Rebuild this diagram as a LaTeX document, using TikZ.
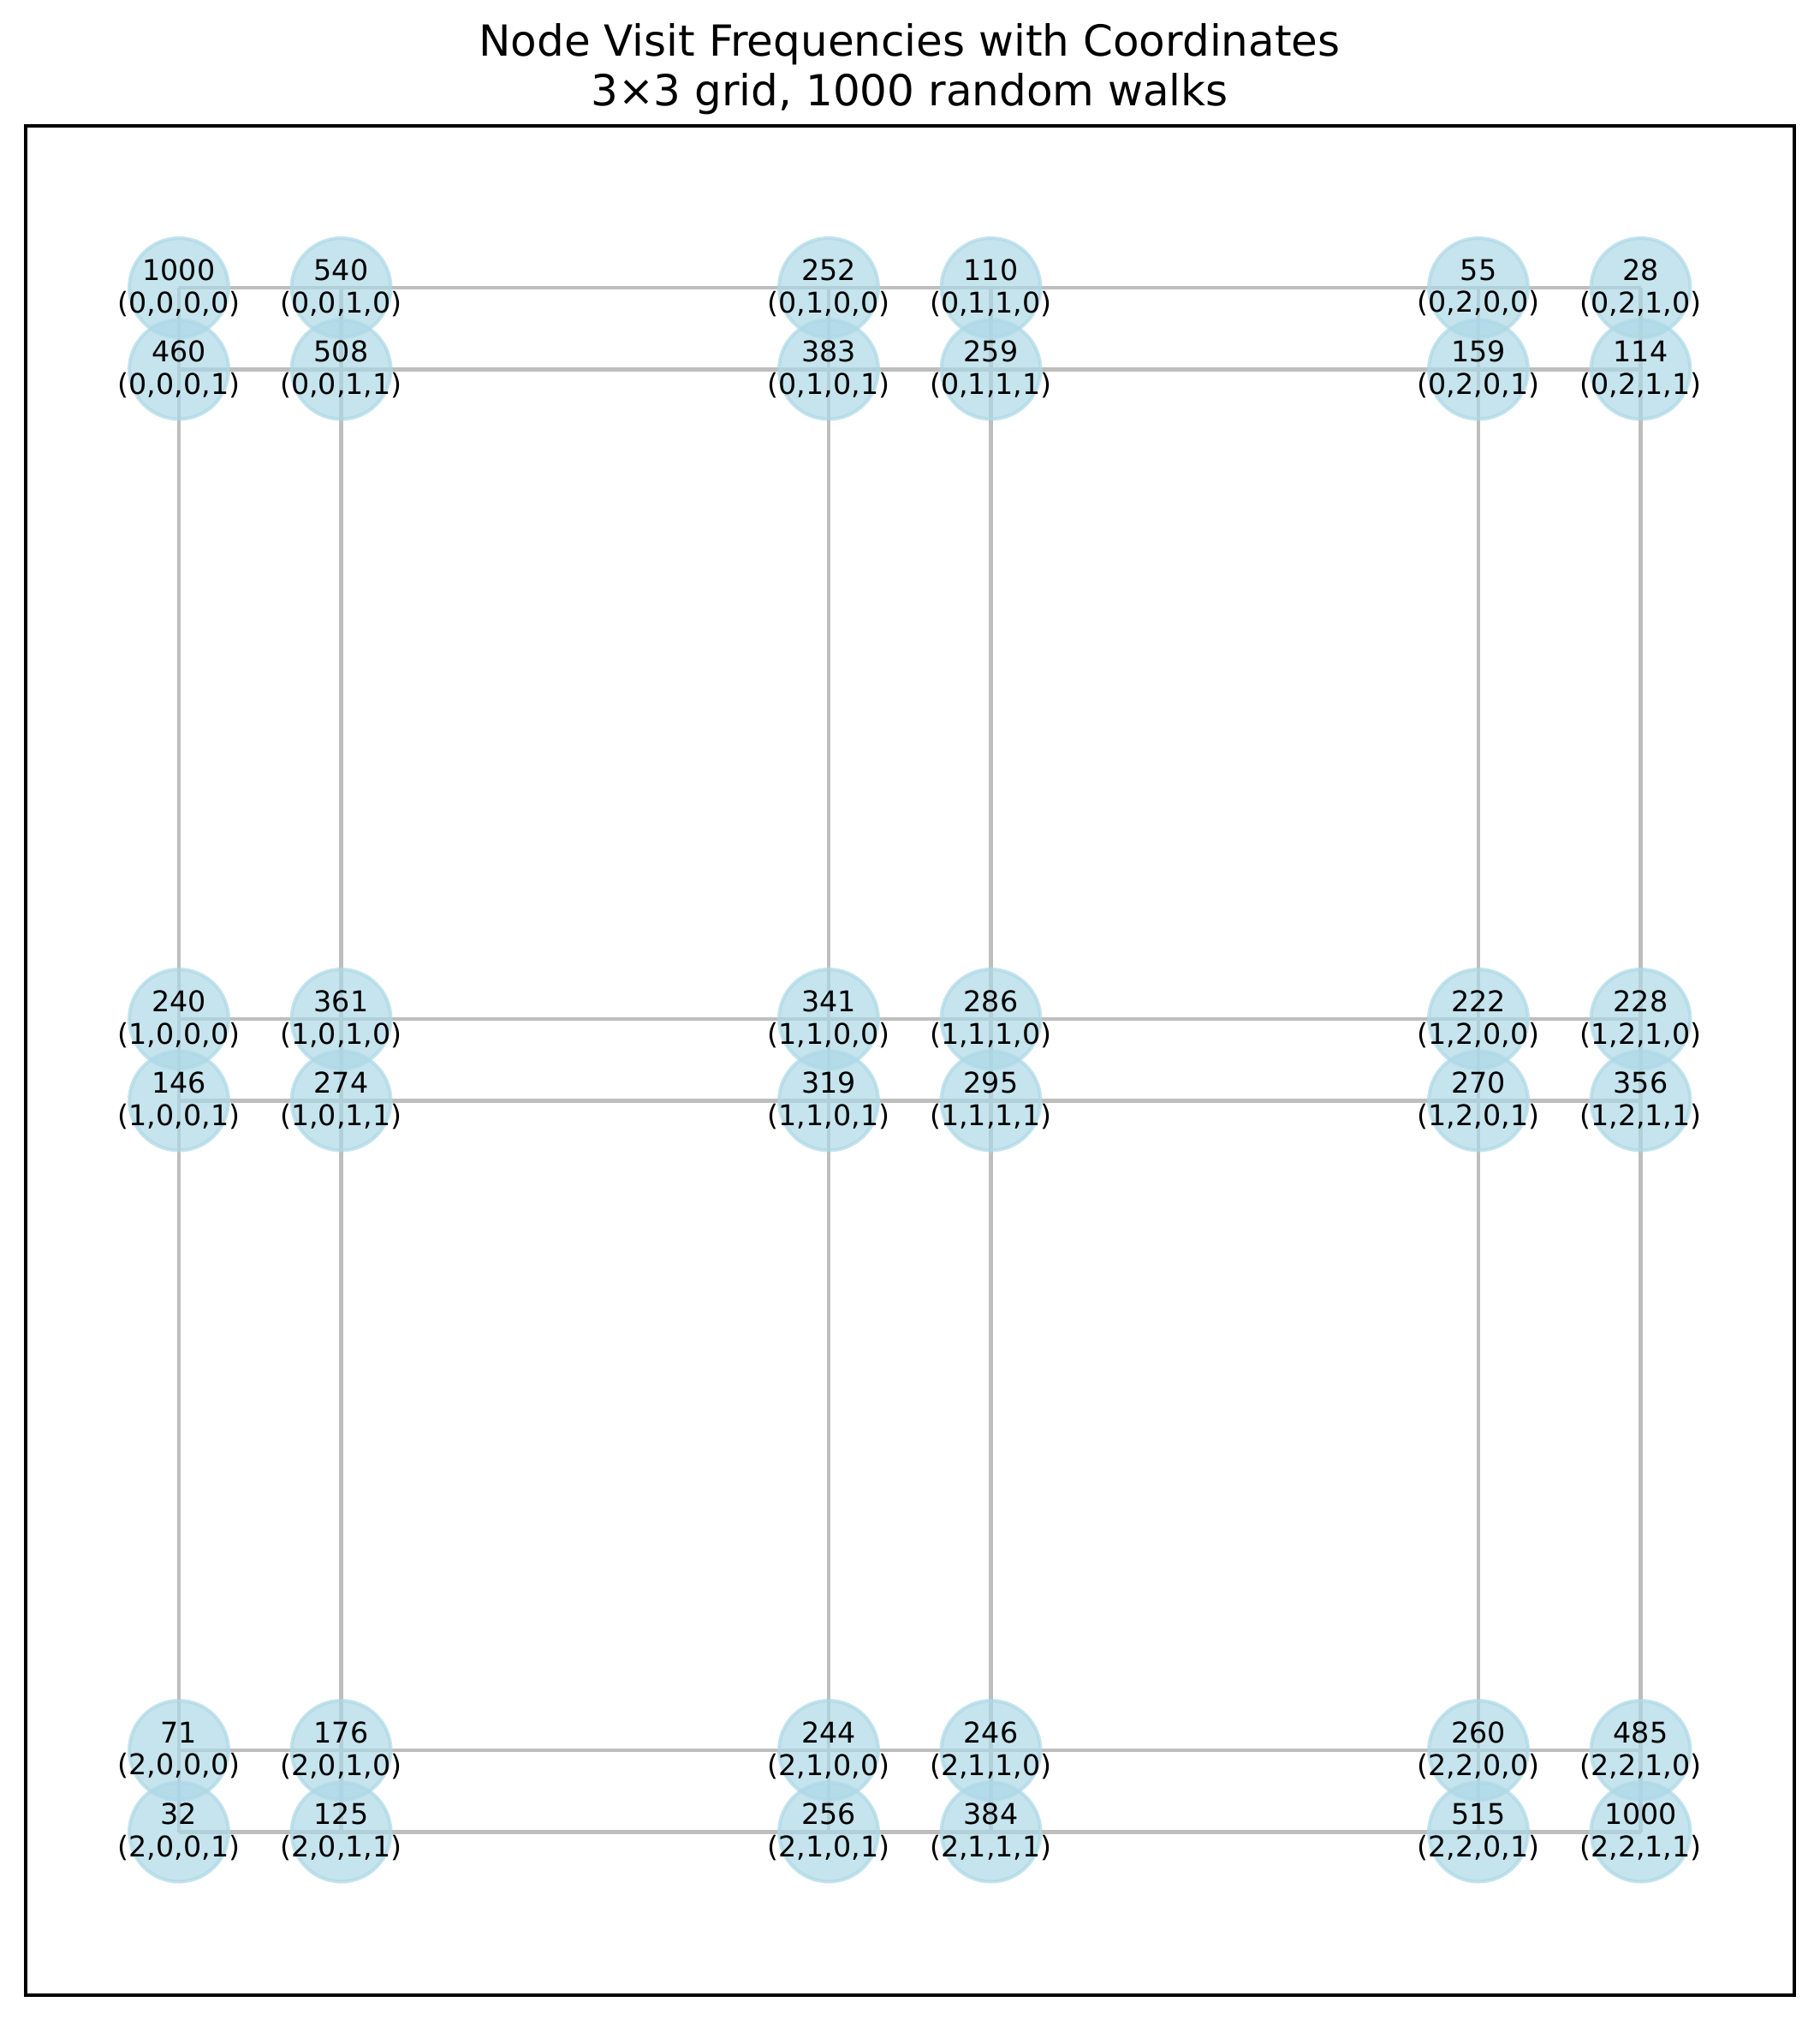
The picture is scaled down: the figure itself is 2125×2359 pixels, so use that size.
\documentclass[tikz,border=0pt]{standalone}
\usepackage{fontspec}
\setmainfont{DejaVu Sans}
\usetikzlibrary{backgrounds}
\definecolor{visitblue}{HTML}{ADD8E6}
\definecolor{walkgray}{RGB}{190,190,190}
\begin{document}
\begin{tikzpicture}[
  x=0.24pt, y=-0.24pt,
  vnode/.style={circle, minimum size=27.8pt, inner sep=0pt,
    fill=visitblue, draw=visitblue, line width=1pt, opacity=0.7},
  vlabel/.style={font=\fontsize{8}{9.1}\selectfont, align=center, inner sep=0pt},
  walk/.style={draw=walkgray, line width=1pt},
  heading/.style={font=\fontsize{12}{14.4}\selectfont, anchor=base, inner sep=0pt}
]
\useasboundingbox (0,0) rectangle (2125,2359);

% title
\node[heading] (title) at (1062.5,65) {Node Visit Frequencies with Coordinates};
\node[heading] (subtitle) at (1062.5,123) {3×3 grid, 1000 random walks};

% axes frame
\draw[line width=0.8pt] (30,147) rectangle (2096,2330);

% visited nodes (a,b,c,d)
\foreach \ia in {0,1,2}
  \foreach \ib in {0,1,2}
    \foreach \ic in {0,1}
      \foreach \id in {0,1}
        \node[vnode] (v\ia\ib\ic\id)
          at ({209+759*\ib+189.5*\ic},{336+854*\ia+95.5*\id}) {};

% edges of the grid
\begin{scope}[on background layer]
  \foreach \ia in {0,1,2}
    \foreach \ib in {0,1,2}
      \foreach \ic in {0,1} {
        \draw[walk] (v\ia\ib\ic0.center) -- (v\ia\ib\ic1.center);
        \draw[walk] (v\ia\ib0\ic.center) -- (v\ia\ib1\ic.center);
      }
  \foreach \ia in {0,1,2}
    \foreach \ib/\nb in {0/1,1/2}
      \foreach \ic in {0,1}
        \foreach \id in {0,1}
          \draw[walk] (v\ia\ib\ic\id.center) -- (v\ia\nb\ic\id.center);
  \foreach \ia/\na in {0/1,1/2}
    \foreach \ib in {0,1,2}
      \foreach \ic in {0,1}
        \foreach \id in {0,1}
          \draw[walk] (v\ia\ib\ic\id.center) -- (v\na\ib\ic\id.center);
\end{scope}

% visit counts
\foreach \ia/\ib/\ic/\id/\cnt in {
  0/0/0/0/1000, 0/0/1/0/540, 0/1/0/0/252, 0/1/1/0/110, 0/2/0/0/55, 0/2/1/0/28,
  0/0/0/1/460, 0/0/1/1/508, 0/1/0/1/383, 0/1/1/1/259, 0/2/0/1/159, 0/2/1/1/114,
  1/0/0/0/240, 1/0/1/0/361, 1/1/0/0/341, 1/1/1/0/286, 1/2/0/0/222, 1/2/1/0/228,
  1/0/0/1/146, 1/0/1/1/274, 1/1/0/1/319, 1/1/1/1/295, 1/2/0/1/270, 1/2/1/1/356,
  2/0/0/0/71, 2/0/1/0/176, 2/1/0/0/244, 2/1/1/0/246, 2/2/0/0/260, 2/2/1/0/485,
  2/0/0/1/32, 2/0/1/1/125, 2/1/0/1/256, 2/1/1/1/384, 2/2/0/1/515, 2/2/1/1/1000}
  \node[vlabel] (t\ia\ib\ic\id) at (v\ia\ib\ic\id) {\cnt\\(\ia,\ib,\ic,\id)};
\end{tikzpicture}
\end{document}
